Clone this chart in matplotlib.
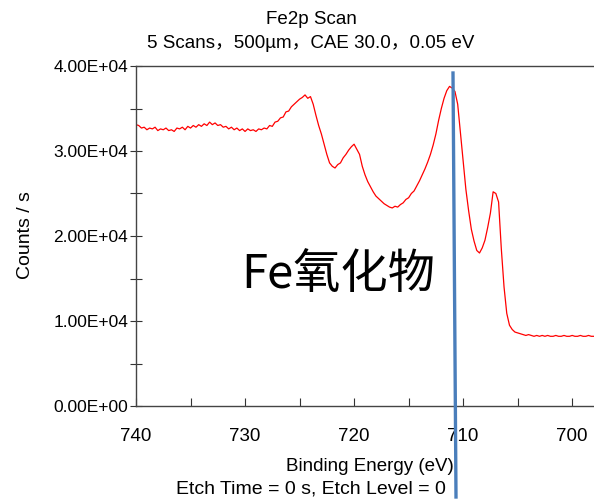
import matplotlib
matplotlib.use("Agg")
import matplotlib.pyplot as plt
from matplotlib.ticker import MultipleLocator, FuncFormatter
from matplotlib.lines import Line2D

# Counts / s (in units of 1e4), 0.25 eV steps from 740 eV down to 698 eV
counts_1e4 = [
    # 740 .. 728
    3.31, 3.30, 3.27, 3.28, 3.25, 3.27, 3.26, 3.28, 3.24, 3.26, 3.25, 3.27, 3.24, 3.25, 3.23, 3.27,
    3.26, 3.28, 3.25, 3.29, 3.27, 3.30, 3.28, 3.31, 3.29, 3.32, 3.30, 3.34, 3.31, 3.33, 3.30, 3.31,
    3.28, 3.29, 3.26, 3.28, 3.25, 3.27, 3.24, 3.26, 3.23, 3.26, 3.24, 3.25, 3.23, 3.26, 3.25, 3.27,
    3.26,
    # 727.75 .. 724
    3.30, 3.29, 3.34, 3.35, 3.39, 3.40, 3.46, 3.47, 3.52, 3.55, 3.58, 3.61, 3.63, 3.66, 3.62, 3.64,
    # 723.75 .. 720
    3.55, 3.42, 3.30, 3.20, 3.08, 2.96, 2.86, 2.82, 2.80, 2.84, 2.86, 2.92, 2.96, 3.01, 3.05, 3.08,
    # 719.75 .. 716
    3.02, 2.96, 2.82, 2.72, 2.64, 2.58, 2.52, 2.47, 2.44, 2.41, 2.38, 2.36, 2.34, 2.33, 2.35, 2.34,
    # 715.75 .. 712
    2.37, 2.39, 2.43, 2.45, 2.50, 2.53, 2.59, 2.65, 2.72, 2.79, 2.87, 2.96, 3.07, 3.20, 3.36, 3.50,
    # 711.75 .. 708
    3.62, 3.71, 3.76, 3.74, 3.70, 3.55, 3.22, 2.89, 2.55, 2.30, 2.08, 1.94, 1.83, 1.80, 1.86, 1.95,
    # 707.75 .. 704
    2.10, 2.27, 2.52, 2.50, 2.40, 1.85, 1.40, 1.09, 0.95, 0.90, 0.87, 0.86, 0.85, 0.84, 0.83, 0.84,
    # 703.75 .. 700
    0.83, 0.82, 0.83, 0.82, 0.83, 0.82, 0.83, 0.82, 0.82, 0.83, 0.82, 0.82, 0.83, 0.82, 0.82, 0.83,
    # 699.75 .. 698
    0.82, 0.82, 0.83, 0.82, 0.82, 0.83, 0.82, 0.82,
]
energy = [740 - 0.25 * i for i in range(len(counts_1e4))]
counts = [c * 1e4 for c in counts_1e4]

title_lines = ["Fe2p Scan", "5 Scans\uff0c500\u00b5m\uff0cCAE 30.0\uff0c0.05 eV"]
xlabel = "Binding Energy (eV)"
xlabel2 = "Etch Time = 0 s, Etch Level = 0"
ylabel = "Counts / s"
annotation = "Fe氧化物"

W, H = 594, 501
fig = plt.figure(figsize=(W / 100, H / 100), dpi=100)
plt.rcParams['font.family'] = ['Liberation Sans', 'Noto Sans CJK SC', 'DejaVu Sans']

ax = fig.add_axes([136 / W, 1 - 406 / H, (W - 136) / W, (406 - 66) / H])
ax.plot(energy, counts, color='#ff0000', lw=0.9)
ax.set_xlim(740, 698)
ax.set_ylim(0, 4e4)

ax.xaxis.set_major_locator(MultipleLocator(10))
ax.xaxis.set_minor_locator(MultipleLocator(5))
ax.yaxis.set_major_locator(MultipleLocator(1e4))
ax.yaxis.set_minor_locator(MultipleLocator(5e3))
ax.yaxis.set_major_formatter(FuncFormatter(lambda v, p: f"{v:.2E}"))
ax.tick_params(axis='x', which='both', direction='in', length=6, width=0.8,
               labelsize=13.5, pad=16, colors='#333333', labelcolor='black')
ax.tick_params(axis='y', which='both', direction='inout', length=9, width=0.8,
               labelsize=12.5, pad=1, colors='#333333', labelcolor='black')
ax.spines['right'].set_visible(False)
for s in ['top', 'left', 'bottom']:
    ax.spines[s].set_color('#444444')
    ax.spines[s].set_linewidth(1.0)

fig.text(311 / W, 1 - 24 / H, title_lines[0], ha='center', va='baseline', fontsize=13.5)
fig.text(311 / W, 1 - 48 / H, title_lines[1], ha='center', va='baseline', fontsize=13.5)
fig.text(370 / W, 1 - 471 / H, xlabel, ha='center', va='baseline', fontsize=13.5)
fig.text(311 / W, 1 - 493 / H, xlabel2, ha='center', va='baseline', fontsize=14)
fig.text(26 / W, 1 - 235 / H, ylabel, ha='center', va='center', rotation=90, fontsize=14)

fig.text(241 / W, 1 - 288 / H, annotation, ha='left', va='baseline', fontsize=34,
         family=['Noto Sans CJK SC', 'DejaVu Sans'])

fig.add_artist(Line2D([453 / W, 456 / W], [1 - 73 / H, 1 - 497 / H],
                      transform=fig.transFigure, color='#4a7ebb', lw=2.4))

fig.savefig("out.png", dpi=100)
